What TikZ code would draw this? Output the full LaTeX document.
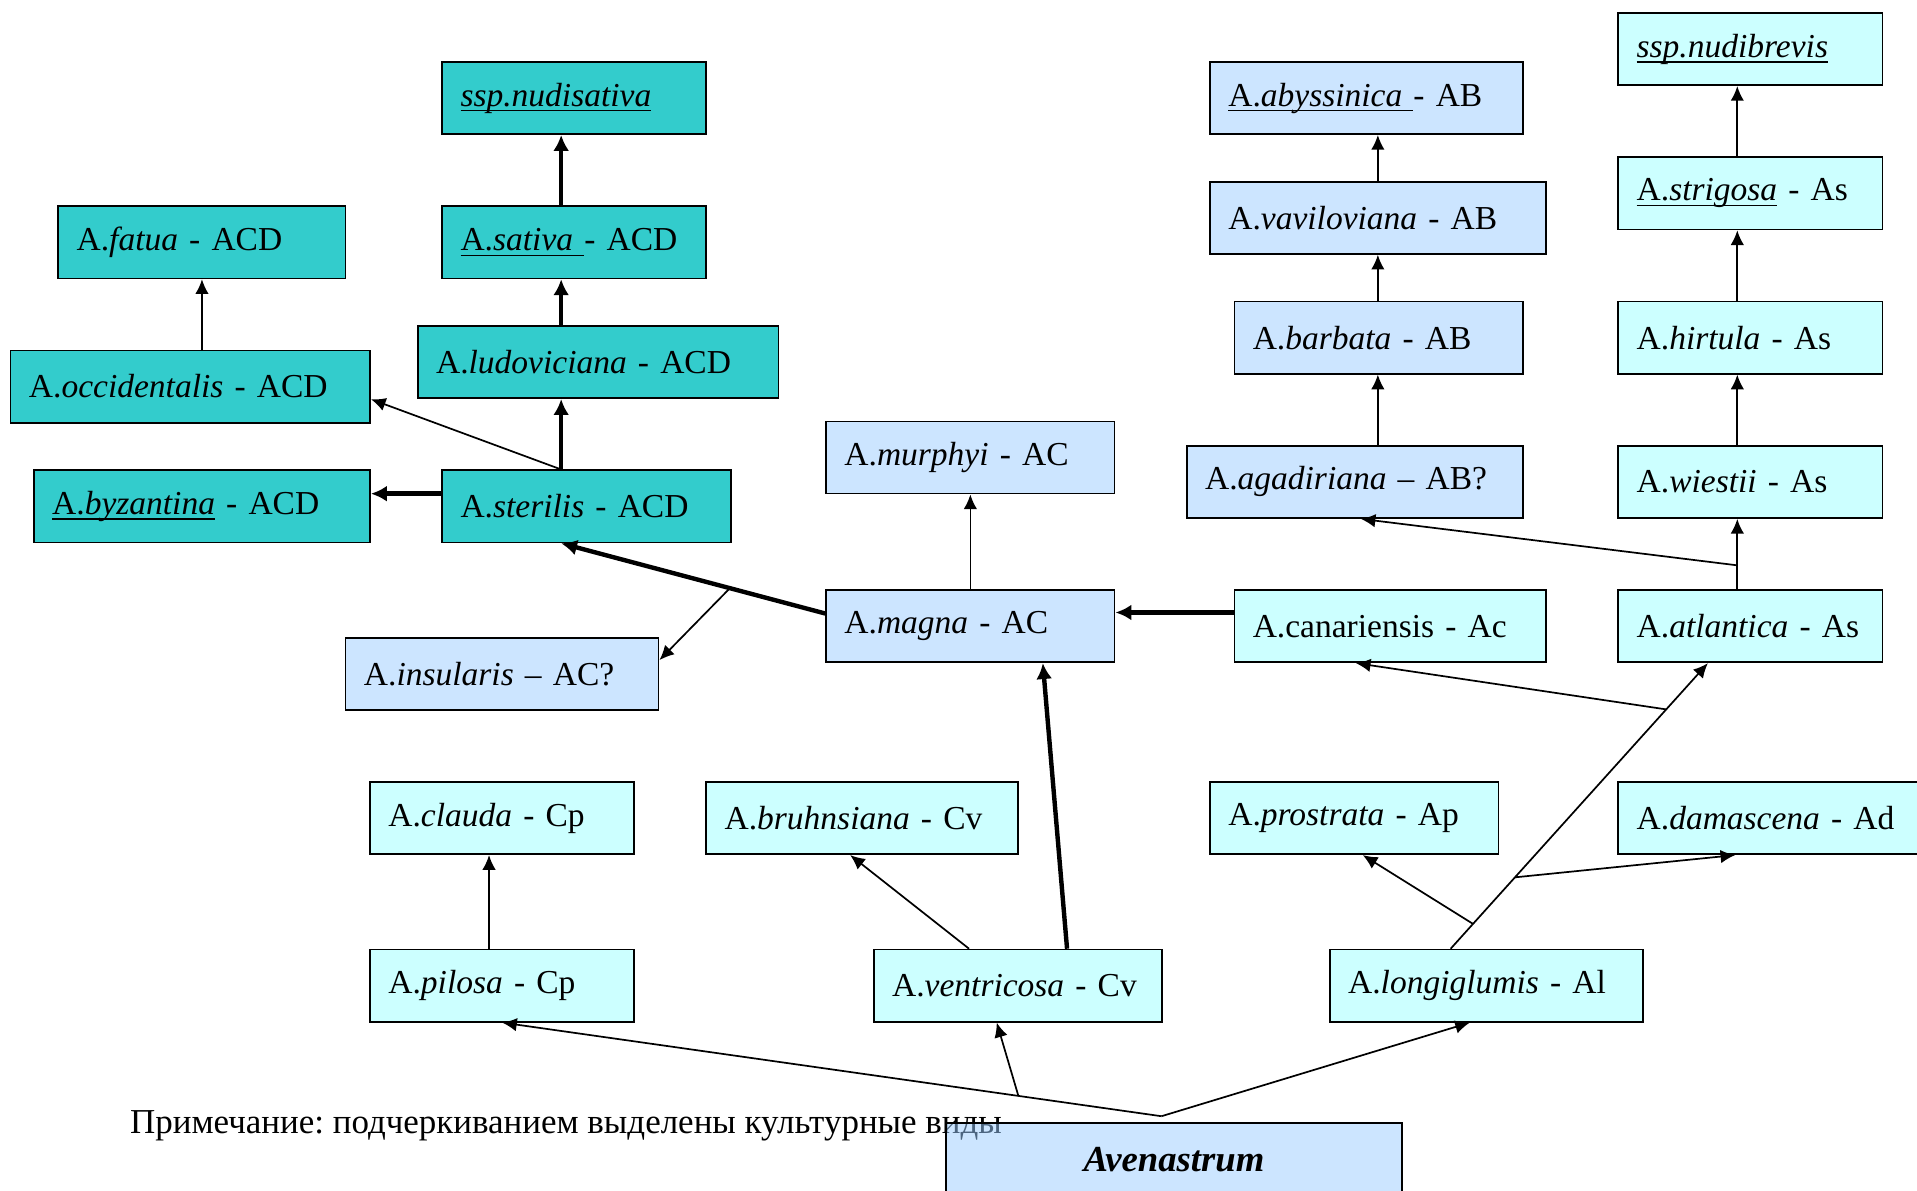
\documentclass[tikz,border=0pt]{standalone}
\usepackage{fontspec}
\setmainfont{Liberation Serif}
\usepackage{xcolor}
\usetikzlibrary{arrows.meta, calc}

\definecolor{teal1}{RGB}{51,204,204}
\definecolor{paleblue}{RGB}{204,229,255}
\definecolor{palecyan}{RGB}{204,255,255}
\definecolor{veilblue}{RGB}{153,203,255}

\newcommand\ulbox[1]{\setbox0\hbox{#1}\rlap{\rule[-2.2pt]{\wd0}{0.6pt}}\box0\relax}

\begin{document}
\begin{tikzpicture}[x = 0.5pt, y = -0.5pt,
		font = \fontsize{13.7}{16}\selectfont,
		box/.style = {draw, line width = 0.7pt, anchor = north west, inner xsep = 0pt, inner ysep = 0pt,
			minimum height = 29.5pt, text width = #1*0.5pt, align = left,
			execute at begin node = \hspace*{7.5pt}},
		link/.style = {line width = 0.7pt, -{Latex[length = 6pt, width = 5.5pt]}},
		heavy/.style = {line width = 1.8pt, -{Latex[length = 6.5pt, width = 6.5pt]}}]
	\useasboundingbox (0,0) rectangle (1568,974);

	\node [box = 216, fill = teal1] (nudisativa) at (361,50) {\ulbox{\textit{ssp.nudisativa}}};
	\node [box = 256, fill = paleblue] (abyssinica) at (989,50) {\ulbox{A.\textit{abyssinica}\ }- AB};
	\node [box = 216, fill = palecyan] (nudibrevis) at (1323,10) {\ulbox{\textit{ssp.nudibrevis}}};

	\node [box = 235, fill = teal1] (fatua) at (47,168) {A.\textit{fatua} - ACD};
	\node [box = 216, fill = teal1] (sativa) at (361,168) {\ulbox{A.\textit{sativa}\ }- ACD};
	\node [box = 275, fill = paleblue] (vaviloviana) at (989,148) {A.\textit{vaviloviana} - AB};
	\node [box = 216, fill = palecyan] (strigosa) at (1323,128) {\ulbox{A.\textit{strigosa}} - As};

	\node [box = 294, fill = teal1] (occidentalis) at (8,286) {A.\textit{occidentalis} - ACD};
	\node [box = 295, fill = teal1] (ludoviciana) at (341,266) {A.\textit{ludoviciana} - ACD};
	\node [box = 236, fill = paleblue] (barbata) at (1009,246) {A.\textit{barbata} - AB};
	\node [box = 216, fill = palecyan] (hirtula) at (1323,246) {A.\textit{hirtula} - As};

	\node [box = 275, fill = teal1] (byzantina) at (27,384) {\ulbox{A.\textit{byzantina}} - ACD};
	\node [box = 236, fill = teal1] (sterilis) at (361,384) {A.\textit{sterilis} - ACD};
	\node [box = 236, fill = paleblue] (murphyi) at (675,344) {A.\textit{murphyi} - AC};
	\node [box = 275, fill = paleblue] (agadiriana) at (970,364) {A.\textit{agadiriana} – AB?};
	\node [box = 216, fill = palecyan] (wiestii) at (1323,364) {A.\textit{wiestii} - As};

	\node [box = 256, fill = paleblue] (insularis) at (282,521) {A.\textit{insularis} – AC?};
	\node [box = 236, fill = paleblue] (magna) at (675,482) {A.\textit{magna} - AC};
	\node [box = 255, fill = palecyan] (canariensis) at (1009,482) {A.canariensis - Ac};
	\node [box = 216, fill = palecyan] (atlantica) at (1323,482) {A.\textit{atlantica} - As};

	\node [box = 216, fill = palecyan] (clauda) at (302,639) {A.\textit{clauda} - Cp};
	\node [box = 255, fill = palecyan] (bruhnsiana) at (577,639) {A.\textit{bruhnsiana} - Cv};
	\node [box = 236, fill = palecyan] (prostrata) at (989,639) {A.\textit{prostrata} - Ap};
	\node [box = 256, fill = palecyan] (damascena) at (1323,639) {A.\textit{damascena} - Ad};

	\node [box = 216, fill = palecyan] (pilosa) at (302,776) {A.\textit{pilosa} - Cp};
	\node [box = 236, fill = palecyan] (ventricosa) at (714,776) {A.\textit{ventricosa} - Cv};
	\node [box = 256, fill = palecyan] (longiglumis) at (1087,776) {A.\textit{longiglumis} - Al};

	\node [anchor = base west, inner sep = 0pt, font = \fontsize{14.3}{16}\selectfont\frenchspacing]
		(note) at (106,927) {Примечание: подчеркиванием выделены культурные виды};
	\node [draw, line width = 0.7pt, fill = veilblue, fill opacity = 0.5, text opacity = 1, anchor = north west,
		minimum width = 186.5pt, minimum height = 29.5pt, font = \fontsize{15}{17}\selectfont\bfseries\itshape]
		(aven) at (773,918) {Avenastrum};

	\coordinate (xS) at (459,0);
	\coordinate (xP) at (400,0);
	\coordinate (xB) at (1127,0);
	\coordinate (xAs) at (1421,0);
	\coordinate (root) at (950,913);

	\begin{scope}[heavy]
		\foreach \a/\b in {sterilis/ludoviciana, ludoviciana/sativa, sativa/nudisativa}
		{
			\draw (\a.north -| xS) -- (\b.south -| xS);
		}
		\draw (sterilis.175) -- (byzantina.east |- sterilis.175);
		\draw (magna.175) -- coordinate [pos = 0.361] (mg1) (sterilis.south -| xS);
		\draw (canariensis.175) -- (magna.east |- canariensis.175);
		\draw (ventricosa.37) -- (magna.333.4);
	\end{scope}

	\begin{scope}[link]
		\draw (sterilis.north -| xS) -- (occidentalis.356);
		\draw (occidentalis.north -| fatua.south) -- (fatua.south);
		\draw (mg1) -- (insularis.5);
		\draw (magna.north) -- (murphyi.south);
		\draw (ventricosa.143) -- (bruhnsiana.252);
		\draw (pilosa.north -| xP) -- (clauda.south -| xP);

		\draw (root) -- coordinate [pos = 0.217] (rt1) (pilosa.south);
		\draw (root) -- (longiglumis.246);
		\draw (rt1) -- (ventricosa.240);

		\draw (longiglumis.134.5) -- coordinate [pos = 0.087] (lg1) coordinate [pos = 0.25] (lg2)
			coordinate [pos = 0.838] (lg3) (atlantica.221);
		\draw (lg1) -- (prostrata.283);
		\draw (lg2) -- (damascena.223);
		\draw (lg3) -- (canariensis.227);

		\draw (atlantica.north -| xAs) -- coordinate [pos = 0.34] (at1) (wiestii.south -| xAs);
		\draw (at1) -- (agadiriana.279);

		\foreach \a/\b in {wiestii/hirtula, hirtula/strigosa, strigosa/nudibrevis}
		{
			\draw (\a.north -| xAs) -- (\b.south -| xAs);
		}
		\foreach \a/\b in {agadiriana/barbata, barbata/vaviloviana, vaviloviana/abyssinica}
		{
			\draw (\a.north -| xB) -- (\b.south -| xB);
		}
	\end{scope}
\end{tikzpicture}
\end{document}
